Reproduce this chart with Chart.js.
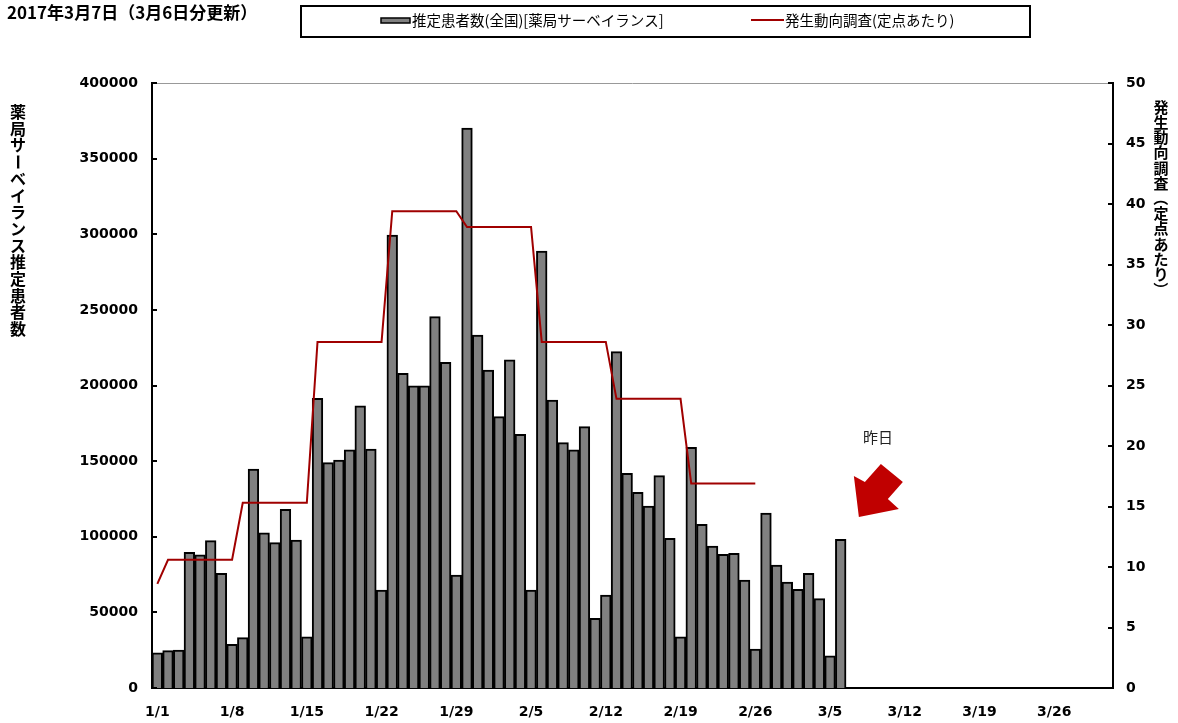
<!DOCTYPE html>
<html>
<head>
<meta charset="utf-8">
<script src="https://cdn.jsdelivr.net/npm/chart.js@4.4.1/dist/chart.umd.min.js"></script>
<style>
  body { margin: 0; background: #fff; }
  #wrap { width: 1178px; height: 723px; }
</style>
</head>
<body>
<div id="wrap"><canvas id="chart" width="1178" height="723"></canvas></div>
<script>
// x axis: every day from 1/1 to 3/31, label shown once a week
const months = [[1, 31], [2, 28], [3, 31]];
const days = [];
months.forEach(([m, n]) => { for (let d = 1; d <= n; d++) days.push(m + '/' + d); });

// estimated patients (pharmacy surveillance), 1/1 .. 3/6
const patients = [
  23300, 24700, 25000, 89700, 88100, 97400, 75800,
  28900, 33300, 144800, 102600, 96100, 118100, 97800,
  33900, 191500, 149000, 150700, 157400, 186600, 158000,
  64800, 299500, 208000, 199700, 199700, 245500, 215300,
  74700, 370200, 233400, 210200, 179400, 216900, 167700,
  64800, 288900, 190400, 162200, 157400, 172800, 46100,
  61500, 222400, 141900, 129400, 120300, 140400, 99000,
  33900, 159100, 108200, 93900, 88400, 89000, 71400,
  25800, 115700, 81300, 70100, 65200, 75800, 59100,
  21200, 98300
];

// sentinel surveillance, per site (weekly value repeated each day), 1/1 .. 2/26
const perSite = [
  8.6,
  10.6, 10.6, 10.6, 10.6, 10.6, 10.6, 10.6,
  15.3, 15.3, 15.3, 15.3, 15.3, 15.3, 15.3,
  28.6, 28.6, 28.6, 28.6, 28.6, 28.6, 28.6,
  39.4, 39.4, 39.4, 39.4, 39.4, 39.4, 39.4,
  38.1, 38.1, 38.1, 38.1, 38.1, 38.1, 38.1,
  28.6, 28.6, 28.6, 28.6, 28.6, 28.6, 28.6,
  23.9, 23.9, 23.9, 23.9, 23.9, 23.9, 23.9,
  16.9, 16.9, 16.9, 16.9, 16.9, 16.9, 16.9
];

const updatedText = '2017年3月7日（3月6日分更新）';
const leftTitle = '薬局サーベイランス推定患者数';
const rightTitle = '発生動向調査（定点あたり）';
const noteText = '昨日';
// where the "yesterday" note and arrow sit (category index, patients value)
const notePos = { index: 67.5, value: 166000 };
const arrowTip = { index: 65.7, value: 113000 };

const tickFont = { family: 'DejaVu Sans', size: 14, weight: 'bold' };
const cjk = '"Noto Sans CJK JP"';

function drawVertical(ctx, text, cx, y0, step) {
    [...text].forEach((ch, i) => {
        const cy = y0 + i * step;
        if ('ー（）'.includes(ch)) {
            ctx.save();
            ctx.translate(cx, cy);
            ctx.rotate(Math.PI / 2);
            ctx.fillText(ch, 0, 0);
            ctx.restore();
        } else {
            ctx.fillText(ch, cx, cy);
        }
    });
}

const decor = {
    id: 'decor',
    afterDraw(chart) {
        const ctx = chart.ctx;
        const a = chart.chartArea;
        const x = chart.scales.x, y = chart.scales.y, y1 = chart.scales.y1;
        ctx.save();

        // top edge of plot
        ctx.strokeStyle = '#999';
        ctx.lineWidth = 1;
        ctx.beginPath();
        ctx.moveTo(a.left, a.top + 0.5);
        ctx.lineTo(a.right, a.top + 0.5);
        ctx.stroke();

        // inward tick marks
        ctx.strokeStyle = '#000';
        ctx.lineWidth = 2;
        y.ticks.forEach(t => {
            const py = Math.round(y.getPixelForValue(t.value));
            ctx.beginPath(); ctx.moveTo(a.left, py); ctx.lineTo(a.left + 5, py); ctx.stroke();
        });
        y1.ticks.forEach(t => {
            const py = Math.round(y1.getPixelForValue(t.value));
            ctx.beginPath(); ctx.moveTo(a.right, py); ctx.lineTo(a.right - 5, py); ctx.stroke();
        });

        // update date
        ctx.fillStyle = '#000';
        ctx.textBaseline = 'middle';
        ctx.textAlign = 'left';
        ctx.font = 'bold 17px ' + cjk;
        ctx.fillText(updatedText, 7, 13);

        // legend box
        ctx.lineWidth = 2;
        ctx.strokeRect(301, 6, 729, 31);
        const bars = chart.data.datasets[1], line = chart.data.datasets[0];
        ctx.fillStyle = bars.backgroundColor;
        ctx.fillRect(381, 18, 29, 5);
        ctx.lineWidth = 1.5;
        ctx.strokeRect(381, 18, 29, 5);
        ctx.fillStyle = '#000';
        ctx.font = '14.5px ' + cjk;
        ctx.fillText(bars.label, 412, 20);
        ctx.strokeStyle = line.borderColor;
        ctx.lineWidth = 2;
        ctx.beginPath(); ctx.moveTo(751, 20); ctx.lineTo(784, 20); ctx.stroke();
        ctx.fillText(line.label, 785, 20);

        // vertical axis titles
        ctx.textAlign = 'center';
        ctx.font = 'bold 16px ' + cjk;
        drawVertical(ctx, leftTitle, 18, 112, 16.7);
        ctx.font = 'bold 15px ' + cjk;
        drawVertical(ctx, rightTitle, 1161, 107, 15.2);

        // note and arrow
        ctx.font = '15px ' + cjk;
        ctx.fillStyle = '#222';
        ctx.fillText(noteText, x.getPixelForValue(notePos.index), y.getPixelForValue(notePos.value));
        const tx = x.getPixelForValue(arrowTip.index), ty = y.getPixelForValue(arrowTip.value);
        const shape = [[0, 0], [-5, -41], [6, -35], [22, -53], [44, -35], [29, -18], [40, -8]];
        ctx.fillStyle = '#c00000';
        ctx.beginPath();
        shape.forEach(([dx, dy], i) => i ? ctx.lineTo(tx + dx, ty + dy) : ctx.moveTo(tx + dx, ty + dy));
        ctx.closePath();
        ctx.fill();

        ctx.restore();
    }
};

new Chart(document.getElementById('chart'), {
    data: {
        labels: days,
        datasets: [
            {
                type: 'line',
                label: '発生動向調査(定点あたり)',
                data: perSite,
                yAxisID: 'y1',
                borderColor: '#a00000',
                borderWidth: 2,
                pointRadius: 0,
                tension: 0,
                order: 1
            },
            {
                type: 'bar',
                label: '推定患者数(全国)[薬局サーベイランス]',
                data: patients,
                yAxisID: 'y',
                backgroundColor: '#808080',
                borderColor: '#000',
                borderWidth: 2,
                barPercentage: 1,
                categoryPercentage: 1,
                order: 2
            }
        ]
    },
    options: {
        responsive: false,
        animation: false,
        layout: { padding: { top: 83, left: 0, right: 0, bottom: 0 } },
        plugins: {
            legend: { display: false },
            tooltip: { enabled: false }
        },
        scales: {
            x: {
                grid: { display: false },
                border: { color: '#000', width: 2 },
                ticks: {
                    autoSkip: false,
                    maxRotation: 0,
                    padding: 8,
                    color: '#000',
                    font: tickFont,
                    callback: (v, i) => (i % 7 === 0 ? days[i] : '')
                },
                afterFit: s => { s.height = 35; }
            },
            y: {
                position: 'left',
                min: 0,
                max: 400000,
                grid: { display: false, drawTicks: false },
                border: { color: '#000', width: 2 },
                ticks: { stepSize: 50000, padding: 14, color: '#000', font: tickFont, callback: v => String(v) },
                afterFit: s => { s.width = 152; }
            },
            y1: {
                position: 'right',
                min: 0,
                max: 50,
                grid: { display: false, drawTicks: false },
                border: { color: '#000', width: 2 },
                ticks: { stepSize: 5, padding: 13, color: '#000', font: tickFont, callback: v => String(v) },
                afterFit: s => { s.width = 65; }
            }
        }
    },
    plugins: [decor]
});
</script>
</body>
</html>
